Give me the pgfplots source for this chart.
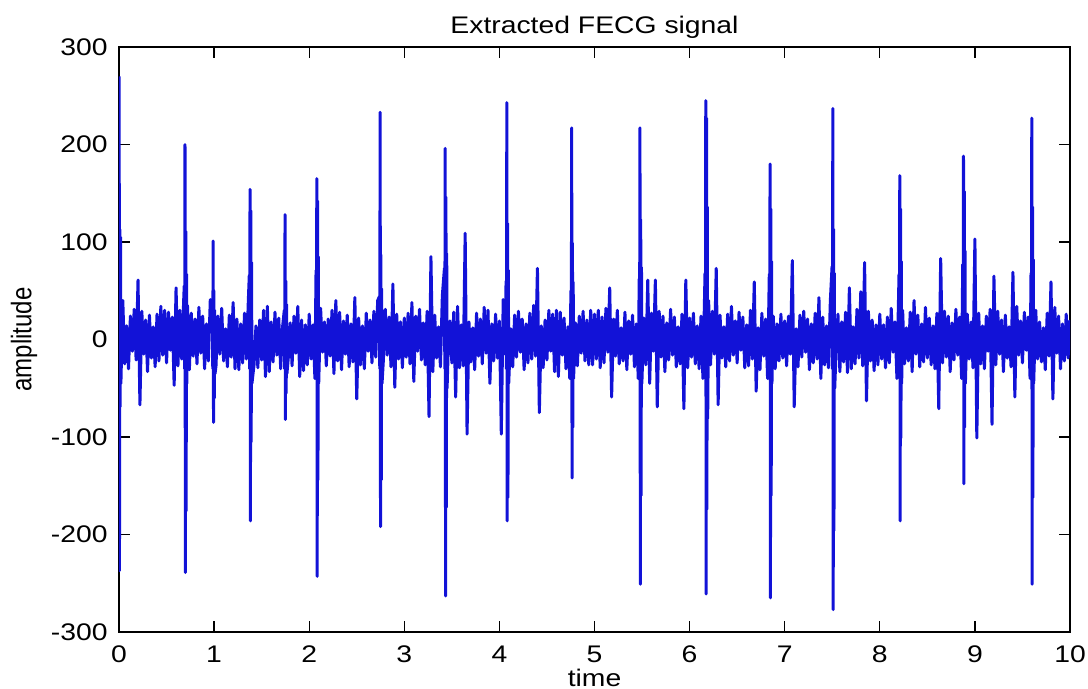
\documentclass[border=0pt]{standalone}
\usepackage{fontspec}
\setmainfont{Liberation Sans}
\usepackage{graphicx}
\usepackage{pgfplots}
\pgfplotsset{compat=1.18}
\definecolor{sig}{RGB}{18,18,215}
\newcommand{\sx}[1]{\scalebox{1.18}[1]{#1}}
\begin{document}
\begin{tikzpicture}
\useasboundingbox (-59.5bp,-28.5bp) rectangle (484.5bp,316bp);
\begin{axis}[
  at={(0,0)}, anchor=south west,
  scale only axis, width=475.5bp, height=292.5bp,
  xmin=0, xmax=10, ymin=-300, ymax=300,
  xtick={0,1,...,10}, ytick={-300,-200,...,300},
  tick align=inside,
  major tick length=5.5bp,
  every tick/.style={black, line width=0.6bp},
  axis line style={line width=0.8bp},
  font=\fontsize{12bp}{14bp}\selectfont,
  /pgf/number format/assume math mode=true,
  xticklabel={\sx{\pgfmathprintnumber{\tick}}},
  yticklabel={\sx{\pgfmathprintnumber{\tick}}},
  xticklabel style={anchor=base, yshift=-15bp, inner sep=0pt},
  yticklabel style={anchor=east, xshift=-5.5bp, inner sep=0pt},
  every axis title shift=0pt,
  title={\sx{Extracted FECG signal}},
  title style={at={(axis description cs:0.5,1)}, anchor=base, yshift=7bp, inner sep=0pt},
  xlabel={\sx{time}},
  xlabel style={at={(axis description cs:0.5,0)}, anchor=base, yshift=-27bp, inner sep=0pt},
  ylabel={\scalebox{1}[1.18]{amplitude}},
  ylabel style={at={(axis description cs:-0.0999,0.5)}, anchor=center, inner sep=0pt},
]
\addplot[sig, line width=1.5bp, line join=round] coordinates {
(0.002,270)(0.005,-237)(0.008,113)(0.012,-69)(0.016,105)(0.02,-45)(0.04,40)(0.06,-25)(0.08,14)(0.10,-30)
(0.12,24)(0.14,-12)(0.16,31)(0.18,-21)(0.20,61)(0.22,-67)(0.24,29)(0.26,-15)(0.28,20)(0.30,-33)
(0.32,25)(0.34,-19)(0.36,13)(0.38,-28)(0.40,26)(0.42,-22)(0.44,34)(0.46,-16)(0.48,30)(0.50,-24)
(0.52,28)(0.54,-11)(0.56,23)(0.58,-47)(0.60,53)(0.62,-27)(0.64,30)(0.66,-20)(0.68,40)
(0.686,55)(0.690,-30)(0.694,200)(0.698,-239)(0.702,111)(0.706,-176)(0.710,67)(0.714,-45)
(0.72,35)(0.74,-31)(0.76,27)(0.78,-17)(0.80,21)(0.82,-25)(0.84,33)(0.86,-14)(0.88,24)(0.90,-30)
(0.92,16)(0.94,-22)(0.96,41)
(0.982,25)(0.986,-30)(0.990,101)(0.994,-85)(0.998,50)(1.002,-60)(1.006,30)(1.010,-35)
(1.02,-27)(1.04,24)(1.06,-15)(1.08,32)(1.10,-22)(1.12,11)(1.14,-28)(1.16,25)(1.18,-18)(1.20,38)
(1.22,-30)(1.24,21)(1.26,-31)(1.28,16)(1.30,-24)(1.32,27)(1.34,-20)(1.36,40)
(1.370,66)(1.374,-30)(1.378,154)(1.382,-186)(1.386,132)(1.390,-105)(1.394,79)(1.398,-45)
(1.42,-26)(1.44,14)(1.46,-29)(1.48,20)(1.50,-21)(1.52,30)(1.54,-38)(1.56,34)(1.58,-33)(1.60,18)
(1.62,-23)(1.64,28)(1.66,-16)(1.68,22)(1.70,-30)(1.72,13)
(1.738,30)(1.742,-30)(1.746,128)(1.750,-82)(1.754,60)(1.758,-55)(1.762,36)(1.766,-35)
(1.78,-19)(1.80,17)(1.82,-27)(1.84,24)(1.86,-14)(1.88,34)(1.90,-38)(1.92,20)(1.94,-32)(1.96,15)(1.98,-26)
(2.00,26)(2.02,-20)(2.04,15)(2.06,-40)
(2.072,71)(2.076,-30)(2.080,165)(2.084,-243)(2.088,142)(2.092,-144)(2.096,85)(2.100,-45)
(2.12,32)(2.14,-13)(2.16,18)(2.18,-27)(2.20,21)(2.22,-17)(2.24,30)(2.26,-35)(2.28,40)(2.30,-22)
(2.32,28)(2.34,-31)(2.36,19)(2.38,-15)(2.40,25)(2.42,-28)(2.44,16)(2.46,-23)(2.48,43)(2.50,-61)
(2.52,22)(2.54,-26)(2.56,14)(2.58,-30)(2.60,27)(2.62,-12)(2.64,20)(2.66,-24)(2.68,29)(2.70,-18)(2.72,40)
(2.738,44)(2.742,-30)(2.746,233)(2.750,-192)(2.754,87)(2.758,-144)(2.762,52)(2.766,-45)
(2.78,-21)(2.80,31)(2.82,-16)(2.84,23)(2.86,-28)(2.88,57)(2.90,-49)(2.92,26)(2.94,-20)(2.96,18)(2.98,-29)
(3.00,22)(3.02,-18)(3.04,27)(3.06,-25)(3.08,38)(3.10,-43)(3.12,24)(3.14,-12)(3.16,31)(3.18,-21)
(3.20,17)(3.22,-26)(3.24,29)(3.26,-79)(3.28,85)(3.30,-33)(3.32,25)(3.34,-19)(3.36,13)(3.38,-28)(3.40,45)
(3.422,73)(3.426,-30)(3.430,196)(3.434,-263)(3.438,146)(3.442,-172)(3.446,88)(3.450,-50)
(3.46,-16)(3.48,19)(3.50,-24)(3.52,28)(3.54,-59)(3.56,34)(3.58,-29)(3.60,15)(3.62,-27)(3.64,109)
(3.66,-97)(3.68,18)(3.70,-23)(3.72,12)(3.74,-31)(3.76,27)(3.78,-17)(3.80,21)(3.82,-25)(3.84,33)
(3.86,-14)(3.88,30)(3.90,-45)(3.92,16)(3.94,-22)(3.96,26)(3.98,-19)
(4.00,19)(4.02,-97)(4.04,41)(4.06,-15)
(4.070,60)(4.074,-30)(4.078,243)(4.082,-186)(4.086,119)(4.090,-162)(4.094,71)(4.098,-45)
(4.12,11)(4.14,-28)(4.16,25)(4.18,-18)(4.20,29)(4.22,-13)(4.24,21)(4.26,-31)(4.28,16)(4.30,-24)
(4.32,27)(4.34,-20)(4.36,35)(4.38,-17)(4.40,73)(4.42,-75)(4.44,14)(4.46,-29)(4.48,20)(4.50,-21)
(4.52,30)(4.54,-12)(4.56,26)(4.58,-33)(4.60,30)(4.62,-38)(4.64,28)(4.66,-16)(4.68,22)(4.70,-30)(4.72,13)(4.74,-40)
(4.752,50)(4.756,-30)(4.760,217)(4.764,-142)(4.768,99)(4.772,-90)(4.776,59)(4.780,-40)
(4.80,17)(4.82,-27)(4.84,24)(4.86,-14)(4.88,29)(4.90,-22)(4.92,20)(4.94,-26)(4.96,30)(4.98,-26)
(5.00,26)(5.02,-20)(5.04,30)(5.06,-29)(5.08,23)(5.10,-24)(5.12,32)(5.14,-13)(5.16,53)(5.18,-59)
(5.20,21)(5.22,-17)(5.24,30)(5.26,-25)(5.28,12)(5.30,-22)(5.32,28)(5.34,-31)(5.36,19)(5.38,-15)
(5.40,25)(5.42,-28)(5.44,16)(5.46,-40)
(5.470,62)(5.474,-30)(5.478,217)(5.482,-251)(5.486,123)(5.490,-160)(5.494,74)(5.498,-45)
(5.52,22)(5.54,-26)(5.56,61)(5.58,-45)(5.60,27)(5.62,-12)(5.64,61)(5.66,-69)(5.68,29)(5.70,-18)
(5.72,24)(5.74,-33)(5.76,17)(5.78,-21)(5.80,31)(5.82,-16)(5.84,23)(5.86,-28)(5.88,13)(5.90,-25)
(5.92,26)(5.94,-71)(5.96,61)(5.98,-29)
(6.00,22)(6.02,-18)(6.04,27)(6.06,-25)(6.08,14)(6.10,-30)(6.12,24)(6.14,-40)
(6.162,68)(6.166,-30)(6.170,245)(6.174,-261)(6.178,227)(6.182,-174)(6.186,136)(6.190,-81)
(6.20,40)(6.22,-26)(6.24,29)(6.26,-15)(6.28,73)(6.30,-67)(6.32,25)(6.34,-19)(6.36,13)(6.38,-28)
(6.40,26)(6.42,-22)(6.44,34)(6.46,-16)(6.48,19)(6.50,-24)(6.52,28)(6.54,-11)(6.56,23)(6.58,-29)
(6.60,15)(6.62,-27)(6.64,30)(6.66,-20)(6.68,59)(6.70,-53)(6.72,12)(6.74,-31)(6.76,27)(6.78,-17)
(6.80,21)(6.82,-40)
(6.838,67)(6.842,-30)(6.846,180)(6.850,-265)(6.854,134)(6.858,-160)(6.862,80)(6.866,-45)
(6.88,24)(6.90,-30)(6.92,16)(6.94,-22)(6.96,26)(6.98,-19)
(7.00,19)(7.02,-27)(7.04,24)(7.06,-15)(7.08,81)(7.10,-69)(7.12,11)(7.14,-28)(7.16,25)(7.18,-18)
(7.20,29)(7.22,-13)(7.24,21)(7.26,-31)(7.28,16)(7.30,-24)(7.32,27)(7.34,-20)(7.36,43)(7.38,-40)
(7.40,23)(7.42,-26)(7.44,14)(7.46,-29)(7.48,40)
(7.498,75)(7.502,-30)(7.506,237)(7.510,-277)(7.514,113)(7.518,-196)(7.522,68)(7.526,-50)
(7.54,-12)(7.56,26)(7.58,-33)(7.60,18)(7.62,-23)(7.64,28)(7.66,-34)(7.68,53)(7.70,-30)(7.72,13)
(7.74,-25)(7.76,31)(7.78,-19)(7.80,49)(7.82,-27)(7.84,79)(7.86,-63)(7.88,29)(7.90,-22)(7.92,20)
(7.94,-32)(7.96,15)(7.98,-26)
(8.00,26)(8.02,-20)(8.04,15)(8.06,-29)(8.08,23)(8.10,-24)(8.12,32)(8.14,-13)(8.16,18)(8.18,-40)
(8.202,67)(8.206,-30)(8.210,168)(8.214,-186)(8.218,134)(8.222,-101)(8.226,80)(8.230,-45)
(8.24,30)(8.26,-25)(8.28,12)(8.30,-22)(8.32,28)(8.34,-33)(8.36,40)(8.38,-15)(8.40,25)(8.42,-28)
(8.44,16)(8.46,-23)(8.48,33)(8.50,-19)(8.52,22)(8.54,-26)(8.56,14)(8.58,-30)(8.60,27)(8.62,-71)
(8.64,83)(8.66,-24)(8.68,29)(8.70,-18)(8.72,24)(8.74,-33)(8.76,17)(8.78,-21)(8.80,31)(8.82,-16)
(8.84,23)(8.86,-40)
(8.872,77)(8.876,-30)(8.880,188)(8.884,-148)(8.888,152)(8.892,-90)(8.896,91)(8.900,-45)
(8.92,26)(8.94,-20)(8.96,18)(8.98,-29)
(9.00,103)(9.02,-101)(9.04,27)(9.06,-25)(9.08,14)(9.10,-30)(9.12,24)(9.14,-12)(9.16,31)(9.18,-87)
(9.20,65)(9.22,-26)(9.24,29)(9.26,-15)(9.28,20)(9.30,-33)(9.32,25)(9.34,-19)(9.36,13)(9.38,-28)
(9.40,69)(9.42,-59)(9.44,34)(9.46,-16)(9.48,19)(9.50,-24)(9.52,28)(9.54,-11)(9.56,23)(9.58,-40)
(9.590,68)(9.594,-30)(9.598,227)(9.602,-251)(9.606,136)(9.610,-162)(9.614,82)(9.618,-45)
(9.64,30)(9.66,-20)(9.68,18)(9.70,-23)(9.72,12)(9.74,-31)(9.76,27)(9.78,-17)(9.80,59)(9.82,-61)
(9.84,33)(9.86,-14)(9.88,24)(9.90,-30)(9.92,16)(9.94,-22)(9.96,26)(9.98,-19)(10.00,20)
};
\end{axis}
\end{tikzpicture}
\end{document}
